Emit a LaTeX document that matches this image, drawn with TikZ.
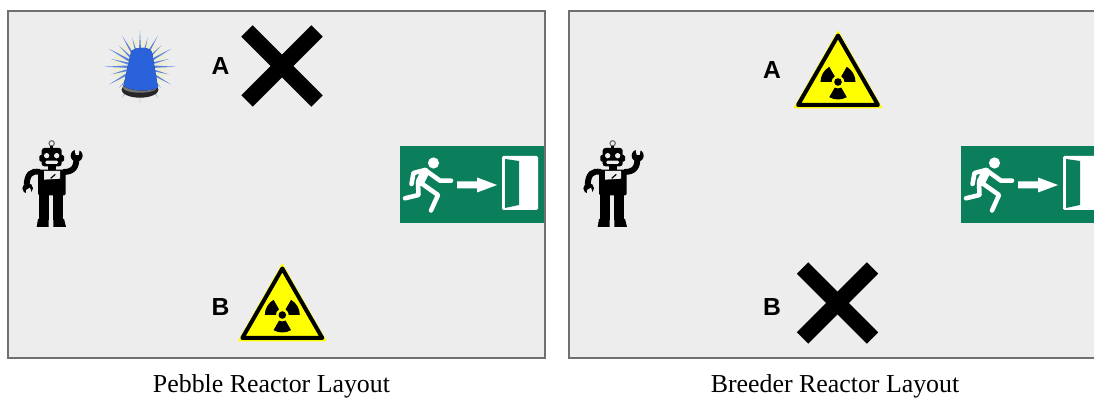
\documentclass[tikz,border=0pt]{standalone}
\usepackage{fontspec}
\setmainfont{Liberation Serif}
\setsansfont{Liberation Sans}
\definecolor{panelgray}{HTML}{EDEDED}
\definecolor{panelline}{HTML}{707070}
\definecolor{exitgreen}{HTML}{0B7F5B}
\definecolor{signyellow}{HTML}{FFFF00}
\definecolor{rayblue}{HTML}{5A82E0}
\definecolor{domeblue}{HTML}{2A62DC}
\definecolor{domelight}{HTML}{5C9AF0}
\definecolor{halo}{HTML}{EEEED6}
\tikzset{
	panel/.style={draw=panelline, fill=panelgray, line width=0.8pt},
	letter/.style={font=\sffamily\bfseries\fontsize{18.5}{18.5}\selectfont, inner sep=0pt},
	caption/.style={font=\fontsize{19.4}{20}\selectfont, inner sep=0pt, anchor=base},
	whiteline/.style={white, line width=3.4pt, line cap=round, line join=round},
	cross/.pic={
		\draw[black, line width=12pt] (-35, -35) -- (35, 35);
		\draw[black, line width=12pt] (-35, 35) -- (35, -35);
	},
	radiation/.pic={
		\fill[signyellow, draw=signyellow, line width=1.5pt, line join=round] (0, -50) -- (43, 25.5) -- (-43, 25.5) -- cycle;
		\draw[black, line width=3pt, line join=round] (0, -46.5) -- (40, 23) -- (-40, 23) -- cycle;
		\fill[black] (0, 0) circle (3.8);
		\foreach \a in {90, 210, 330}
			\fill[black] (\a-30:6.5) -- (\a-30:17.5) arc[start angle=\a-30, end angle=\a+30, radius=17.5] -- (\a+30:6.5) arc[start angle=\a+30, end angle=\a-30, radius=6.5] -- cycle;
	},
	beacon/.pic={
		\fill[halo] (0, 0) circle (27);
		\foreach \a in {0, 30, ..., 330}
			\fill[rayblue] (\a-6:12) -- (\a:36) -- (\a+6:12) -- cycle;
		\foreach \a in {15, 45, ..., 345}
			\fill[rayblue] (\a-5:12) -- (\a:30) -- (\a+5:12) -- cycle;
		\fill[black!85] (0, 23) ellipse (18.5 and 8);
		\fill[black!55] (0, 20.5) ellipse (17.5 and 5.5);
		\fill[left color=domeblue, middle color=domelight, right color=domeblue] (-16.5, 19) -- (-9, -14) .. controls (-8, -20) and (11, -21) .. (12, -14) -- (18, 21) .. controls (10, 25) and (-9, 25) .. (-16.5, 19) -- cycle;
	},
	robot/.pic={
		\begin{scope}[scale=1/3, shift={(-126, -160)}]
			\draw[black!60, fill=panelgray, line width=0.8pt] (125, 41) circle (8);
			\fill[black] (121, 48) rectangle (129, 60);
			\fill[black, rounded corners=2pt] (95, 55) rectangle (155, 110);
			\fill[black, rounded corners=1pt] (88, 76) rectangle (162, 96);
			\fill[panelgray] (110, 78) circle (8);
			\fill[panelgray] (140, 78) circle (8);
			\fill[panelgray, rounded corners=1pt] (106, 93) rectangle (144, 103);
			\fill[black] (113, 108) rectangle (137, 122);
			\fill[black, rounded corners=1pt] (84, 120) rectangle (167, 197);
			\fill[panelgray] (102, 124) -- (150, 124) -- (150, 147) -- (102, 150) -- cycle;
			\draw[black, line width=0.9pt] (122, 146) -- (136, 134);
			\fill[black] (87, 190) rectangle (116, 272);
			\fill[black] (130, 190) rectangle (159, 272);
			\fill[black] (80, 292) -- (84, 268) -- (116, 268) -- (116, 292) -- cycle;
			\fill[black] (130, 268) -- (162, 268) -- (168, 292) -- (130, 292) -- cycle;
			\draw[black, line width=4.4pt] (160, 127) .. controls (190, 127) and (200, 112) .. (199, 85);
			\fill[black] (200, 78) circle (18);
			\fill[panelgray] (193, 56) -- (210, 56) -- (206, 76) -- (197, 76) -- cycle;
			\draw[black, line width=4.4pt] (90, 127) .. controls (62, 122) and (52, 135) .. (50, 165);
			\fill[black] (53, 176) circle (16);
			\fill[panelgray] (48, 181) -- (60, 174) -- (68, 198) -- (48, 198) -- cycle;
		\end{scope}
	},
	exitsign/.pic={
		\fill[exitgreen] (0, 0) rectangle (144.4, 77);
		\fill[white] (33.5, 17) circle (5.6);
		\draw[white, line width=6.5pt, line cap=round] (25, 26) -- (20, 36);
		\draw[whiteline] (25, 24) -- (13.5, 27) -- (11.5, 38);
		\draw[whiteline] (25, 24) -- (40, 34.7) -- (51, 34.7);
		\draw[whiteline] (18, 37) -- (18.5, 49) -- (5, 52.3);
		\draw[whiteline] (21, 37) -- (38, 49) -- (31, 64.5);
		\fill[white] (57, 35.5) -- (77, 35.5) -- (77, 31.5) -- (97, 39) -- (77, 46.5) -- (77, 42.5) -- (57, 42.5) -- cycle;
		\fill[white, rounded corners=1pt] (102, 10) rectangle (138, 64);
		\fill[exitgreen] (105, 13) -- (119, 15) -- (119, 59) -- (105, 62) -- cycle;
	}
}
\begin{document}
\begin{tikzpicture}[x=0.75pt, y=-0.75pt]
	\useasboundingbox (0, 0) rectangle (1094, 398);
	\clip (0, 0) rectangle (1094, 398);
	\fill[white] (0, 0) rectangle (1094, 398);
	\begin{scope}
		\draw[panel] (8, 11) rectangle (545, 358);
		\pic at (52, 183) {robot};
		\pic at (140, 66.7) {beacon};
		\pic at (282, 66) {cross};
		\pic at (282.3, 315) {radiation};
		\pic at (400, 146) {exitsign};
		\node[letter] (pebbleA) at (220.5, 66.5) {A};
		\node[letter] (pebbleB) at (220.5, 307.5) {B};
		\node[caption] (pebblecaption) at (271.5, 392.5) {Pebble Reactor Layout};
	\end{scope}
	\begin{scope}[shift={(561, 0)}]
		\draw[panel] (8, 11) rectangle (545, 358);
		\pic at (52, 183) {robot};
		\pic at (277, 82) {radiation};
		\pic at (276.5, 303) {cross};
		\pic at (400, 146) {exitsign};
		\node[letter] (breederA) at (211, 70.5) {A};
		\node[letter] (breederB) at (211, 307.5) {B};
		\node[caption] (breedercaption) at (274, 392.5) {Breeder Reactor Layout};
	\end{scope}
\end{tikzpicture}
\end{document}
